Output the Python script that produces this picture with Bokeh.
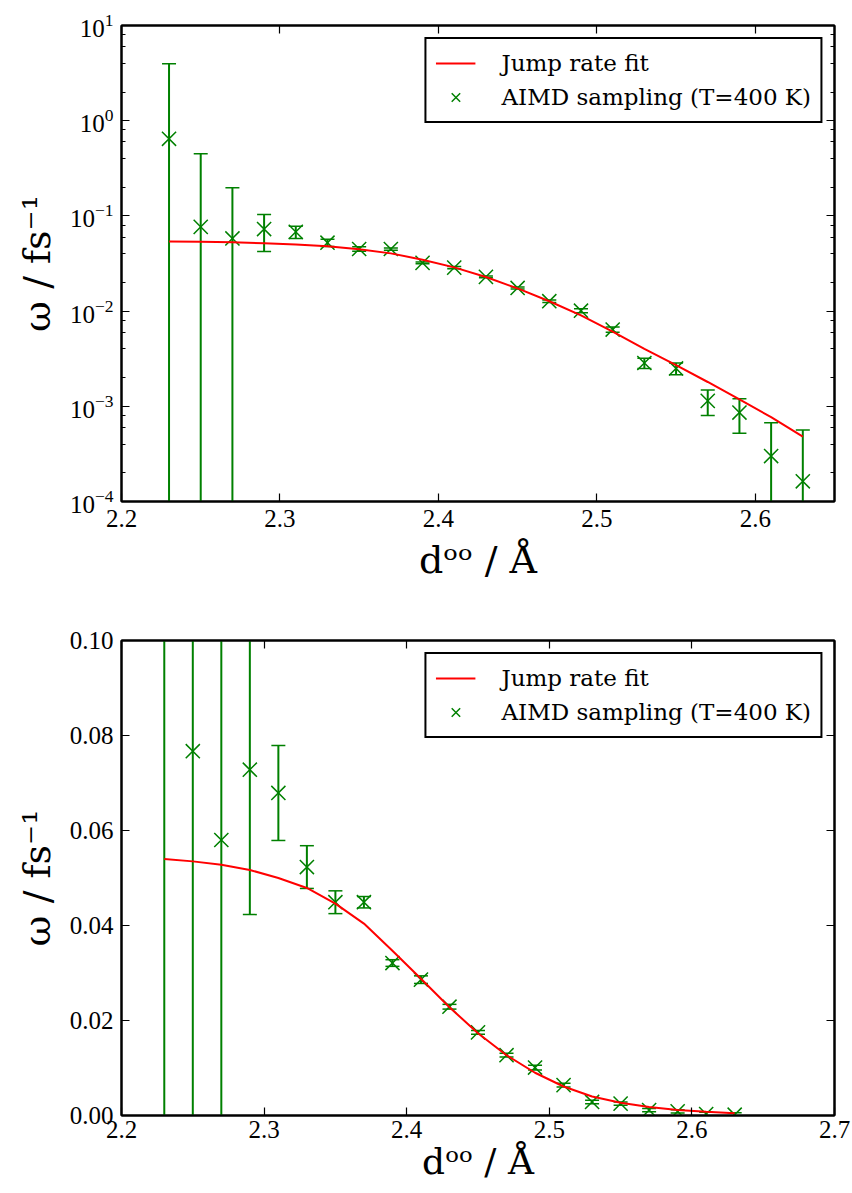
import numpy as np
from bokeh.plotting import figure
from bokeh.models import (ColumnDataSource, LinearAxis, LogAxis, FixedTicker, LogTicker,
                          CustomJSTickFormatter, Legend, LegendItem, PrintfTickFormatter, Range1d)
from bokeh.layouts import column
from bokeh.embed import file_html
from bokeh.resources import INLINE

# ---------------- data ----------------
d_oo = [2.23, 2.25, 2.27, 2.29, 2.31, 2.33, 2.35, 2.37, 2.39, 2.41, 2.43,
        2.45, 2.47, 2.49, 2.51, 2.53, 2.55, 2.57, 2.59, 2.61, 2.63]
omega = [0.645, 0.0767, 0.058, 0.0728, 0.0679, 0.0523, 0.0449, 0.0449, 0.0321, 0.0286, 0.0229,
         0.0175, 0.0127, 0.0101, 0.0064, 0.00285, 0.0025, 0.00114, 0.00086, 0.00030, 0.000163]
omega_err = [3.32, 0.373, 0.140, 0.0305, 0.0100, 0.0045, 0.0024, 0.0012, 0.0007, 0.0008, 0.0005,
             0.0004, 0.0004, 0.0005, 0.0004, 0.00035, 0.00035, 0.00034, 0.00034, 0.00037, 0.0004]
fit_omega = [0.0540, 0.0535, 0.0528, 0.0517, 0.0500, 0.0479, 0.0446, 0.0404, 0.0347, 0.0288, 0.0228,
             0.0173, 0.0127, 0.0090, 0.0061, 0.0040, 0.0027, 0.0018, 0.00118, 0.00077, 0.00048]

x_ticks_top = [2.2, 2.3, 2.4, 2.5, 2.6]
x_ticks_bottom = [2.2, 2.3, 2.4, 2.5, 2.6, 2.7]
y_ticks_lin = [0.0, 0.02, 0.04, 0.06, 0.08, 0.10]

fit_label = "Jump rate fit"
data_label = "AIMD sampling (T=400 K)"
x_label = "dᵒᵒ / Å"
y_label = "ω / fs⁻¹"

GREEN = "#008000"
RED = "#ff0000"
TICK_FONT = "Liberation Serif"
LABEL_FONT = "DejaVu Serif"

x = np.array(d_oo)
w = np.array(omega)
e = np.array(omega_err)
upper = w + e
lower = w - e

empty_fmt = CustomJSTickFormatter(code="return ''")


def style_axis(ax, show_labels=True, minor=False, tick_standoff=8, label_standoff=8, label_size="38px"):
    ax.axis_line_width = 2
    ax.axis_line_color = "black"
    ax.major_tick_in = 8
    ax.major_tick_out = 0
    ax.major_tick_line_width = 1.2
    ax.major_tick_line_color = "black"
    if minor:
        ax.minor_tick_in = 4
        ax.minor_tick_out = 0
        ax.minor_tick_line_width = 1
        ax.minor_tick_line_color = "black"
    else:
        ax.minor_tick_line_color = None
    ax.major_label_text_font = TICK_FONT
    ax.major_label_text_font_size = "25px"
    ax.major_label_text_color = "black"
    ax.major_label_standoff = tick_standoff
    ax.axis_label_text_font = LABEL_FONT
    ax.axis_label_text_font_size = label_size
    ax.axis_label_text_font_style = "normal"
    ax.axis_label_text_color = "black"
    ax.axis_label_standoff = label_standoff
    if not show_labels:
        ax.formatter = empty_fmt


def make_plot(log):
    if log:
        p = figure(x_range=Range1d(2.2, 2.65), y_range=Range1d(1e-4, 10), y_axis_type="log",
                   frame_width=713, frame_height=476,
                   min_border_left=121, min_border_right=18, min_border_top=25, min_border_bottom=107,
                   output_backend="svg", toolbar_location=None)
        xt = x_ticks_top
    else:
        p = figure(x_range=Range1d(2.2, 2.7), y_range=Range1d(0.0, 0.1),
                   frame_width=713, frame_height=475,
                   min_border_left=121, min_border_right=18, min_border_top=32, min_border_bottom=76,
                   output_backend="svg", toolbar_location=None)
        xt = x_ticks_bottom
    p.grid.visible = False
    p.outline_line_color = "black"
    p.outline_line_width = 2
    p.background_fill_color = "white"
    p.border_fill_color = "white"

    # bottom / left axes
    p.xaxis.ticker = FixedTicker(ticks=xt)
    if log:
        style_axis(p.xaxis[0])
    else:
        style_axis(p.xaxis[0], tick_standoff=5, label_standoff=0, label_size="36px")
    p.xaxis.axis_label = x_label
    if log:
        p.yaxis.ticker = LogTicker()
        style_axis(p.yaxis[0], minor=True)
    else:
        p.yaxis.ticker = FixedTicker(ticks=y_ticks_lin)
        p.yaxis.formatter = PrintfTickFormatter(format="%.2f")
        style_axis(p.yaxis[0])
    p.yaxis.axis_label = y_label

    # top / right axes (ticks only)
    top = LinearAxis(ticker=FixedTicker(ticks=xt))
    style_axis(top, show_labels=False)
    p.add_layout(top, "above")
    if log:
        right = LogAxis(ticker=LogTicker())
        style_axis(right, show_labels=False, minor=True)
    else:
        right = LinearAxis(ticker=FixedTicker(ticks=y_ticks_lin))
        style_axis(right, show_labels=False)
    p.add_layout(right, "right")

    # error bars
    if log:
        lo = np.where(lower > 0, lower, 1e-9)
    else:
        lo = lower
    src = ColumnDataSource(dict(x=x, w=w, up=upper, lo=lo))
    p.segment(x0="x", y0="lo", x1="x", y1="up", source=src, line_color=GREEN, line_width=2)
    p.scatter("x", "up", source=src, marker="dash", size=14, line_color=GREEN, line_width=1.5)
    p.scatter("x", "lo", source=src, marker="dash", size=14, line_color=GREEN, line_width=1.5)
    pts = p.scatter("x", "w", source=src, marker="x", size=20, line_color=GREEN, line_width=1.5)

    fit_line = p.line(d_oo, fit_omega, line_color=RED, line_width=2)

    legend = Legend(items=[LegendItem(label=fit_label, renderers=[fit_line]),
                           LegendItem(label=data_label, renderers=[pts])],
                    location="top_right")
    legend.border_line_color = "black"
    legend.border_line_alpha = 1.0
    legend.border_line_width = 2
    legend.label_text_font = LABEL_FONT
    legend.label_text_font_size = "23px"
    legend.label_text_color = "black"
    legend.glyph_width = 40
    legend.glyph_height = 30
    legend.label_height = 30
    legend.label_standoff = 26
    legend.padding = 9
    legend.spacing = 4
    legend.margin = 12
    legend.background_fill_color = "white"
    legend.background_fill_alpha = 1.0
    p.add_layout(legend)
    return p


p1 = make_plot(True)
p2 = make_plot(False)
layout = column(p1, p2, spacing=0)

open("out.html", "w").write(file_html(layout, INLINE))
